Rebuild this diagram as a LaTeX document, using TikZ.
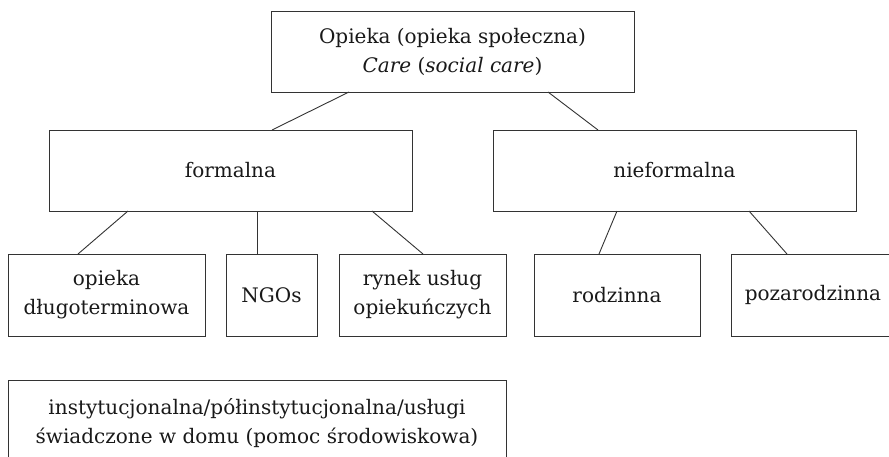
\documentclass[tikz,border=0pt]{standalone}
\usepackage{fontspec}
\setmainfont{DejaVu Serif}
\usetikzlibrary{calc}
\tikzset{
  box/.style={draw=black!80, line width=0.9pt, rectangle, inner sep=0pt, outer sep=0pt,
    align=center, font=\fontsize{20}{29}\selectfont, text=black!90},
  link/.style={draw=black!80, line width=0.9pt}
}
\begin{document}
\begin{tikzpicture}[x=1pt,y=-1pt]
\fill[white] (0,0) rectangle (889,456);
\useasboundingbox (0,0) rectangle (889,456);
\clip (0,0) rectangle (889,456);
\node[box, minimum width=363pt, minimum height=81pt] (top) at (452.5,51.5)
  {Opieka (opieka społeczna)\\\textit{Care} (\textit{social care})};
\node[box, minimum width=363pt, minimum height=81pt] (formal) at (230.5,170.5) {formalna};
\node[box, minimum width=363pt, minimum height=81pt] (nief) at (674.5,170.5) {nieformalna};
\node[box, minimum width=197pt, minimum height=82pt] (dlugo) at (106.5,295) {opieka\\długoterminowa};
\node[box, minimum width=91pt, minimum height=82pt] (ngo) at (271.5,295) {NGOs};
\node[box, minimum width=167pt, minimum height=82pt] (rynek) at (422.5,295) {rynek usług\\opiekuńczych};
\node[box, minimum width=166pt, minimum height=82pt] (rodz) at (617,295) {rodzinna};
\node[box, minimum width=164pt, minimum height=82pt] (poza) at (813,295) {pozarodzinna};
\node[box, minimum width=498pt, minimum height=86pt] (inst) at (257,423)
  {instytucjonalna/półinstytucjonalna/usługi\\świadczone w domu (pomoc środowiskowa)};
\draw[link] ([xshift=-103.5pt]top.south) -- ([xshift=41.5pt]formal.north);
\draw[link] ([xshift=95.5pt]top.south) -- ([xshift=-76.5pt]nief.north);
\draw[link] ([xshift=-102.5pt]formal.south) -- ([xshift=-28.5pt]dlugo.north);
\draw[link] ([xshift=26.5pt]formal.south) -- ([xshift=-14.5pt]ngo.north);
\draw[link] ([xshift=141.5pt]formal.south) -- ([xshift=0.5pt]rynek.north);
\draw[link] ([xshift=-57.5pt]nief.south) -- ([xshift=-18pt]rodz.north);
\draw[link] ([xshift=74.5pt]nief.south) -- ([xshift=-26pt]poza.north);
\end{tikzpicture}
\end{document}
